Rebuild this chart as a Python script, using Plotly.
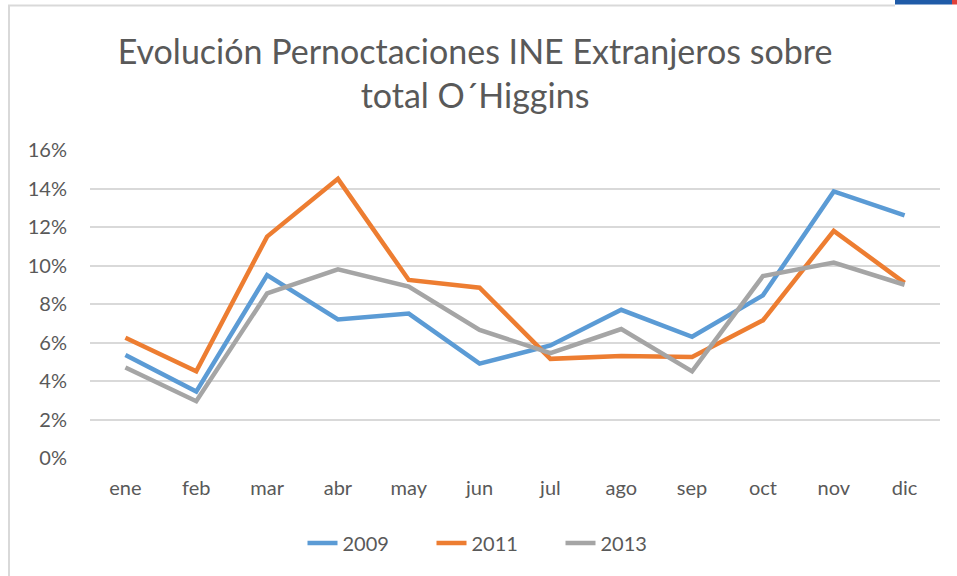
import plotly.graph_objects as go

months = ["ene", "feb", "mar", "abr", "may", "jun", "jul", "ago", "sep", "oct", "nov", "dic"]
s2009 = [5.35, 3.45, 9.5, 7.2, 7.5, 4.9, 5.85, 7.7, 6.3, 8.45, 13.85, 12.6]
s2011 = [6.25, 4.5, 11.5, 14.5, 9.25, 8.85, 5.15, 5.3, 5.25, 7.15, 11.8, 9.1]
s2013 = [4.7, 2.95, 8.55, 9.8, 8.9, 6.65, 5.45, 6.7, 4.5, 9.45, 10.15, 9.0]
series_names = ["2009", "2011", "2013"]
colors = ["#5B9BD5", "#ED7D31", "#A5A5A5"]

W, H = 957, 576
L, R, T, B = 90, 17, 150, 118
pw, ph = W - L - R, H - T - B

def px(x):
    return (x - L) / pw

def py(y):
    return (H - B - y) / ph

fig = go.Figure()
for name, vals, c in zip(series_names, [s2009, s2011, s2013], colors):
    fig.add_trace(go.Scatter(
        x=months, y=[v / 100 for v in vals], name=name, mode="lines",
        line=dict(color=c, width=4.5), hoverinfo="skip"))

font = "Lato, 'Open Sans', sans-serif"
fig.update_layout(
    width=W, height=H,
    margin=dict(l=L, r=R, t=T, b=B),
    paper_bgcolor="white", plot_bgcolor="white",
    font=dict(family=font, color="#595959", size=20),
    title=dict(text="Evolución Pernoctaciones INE Extranjeros sobre<br>total O´Higgins",
               x=(475) / W, xanchor="center", y=1 - 64 / H, yanchor="middle",
               font=dict(family=font, size=34, color="#595959")),
    xaxis=dict(type="category", range=[-0.5, 11.5], showgrid=False, showline=False,
               ticks="", ticklabelstandoff=16, tickfont=dict(size=20, color="#595959")),
    yaxis=dict(range=[0, 0.16], dtick=0.02, tickformat=".0%", showgrid=True,
               gridcolor="#D9D9D9", gridwidth=1.5, zeroline=False, showline=False,
               ticks="", ticklabelstandoff=22, tickfont=dict(size=20, color="#595959")),
    legend=dict(orientation="h", x=px(496), xanchor="center", y=py(543), yanchor="middle",
                font=dict(size=20, color="#595959"), entrywidth=84, traceorder="normal"),
    showlegend=True,
)

shapes = [
    dict(type="line", xref="paper", yref="paper", x0=px(8), x1=px(895), y0=py(5.5), y1=py(5.5),
         line=dict(color="#D9D9D9", width=2)),
    dict(type="line", xref="paper", yref="paper", x0=px(9), x1=px(9), y0=py(5), y1=py(576),
         line=dict(color="#D9D9D9", width=2)),
    dict(type="rect", xref="paper", yref="paper", x0=px(895), x1=px(952), y0=py(0), y1=py(4.5),
         fillcolor="#1F5BA8", line=dict(width=0)),
    dict(type="rect", xref="paper", yref="paper", x0=px(952), x1=px(957), y0=py(0), y1=py(4.5),
         fillcolor="#E0413A", line=dict(width=0)),
]
fig.update_layout(shapes=shapes)

fig.write_html("out.html", config={"displayModeBar": False},
               post_script="document.body.style.margin='0';document.body.style.padding='0';")
